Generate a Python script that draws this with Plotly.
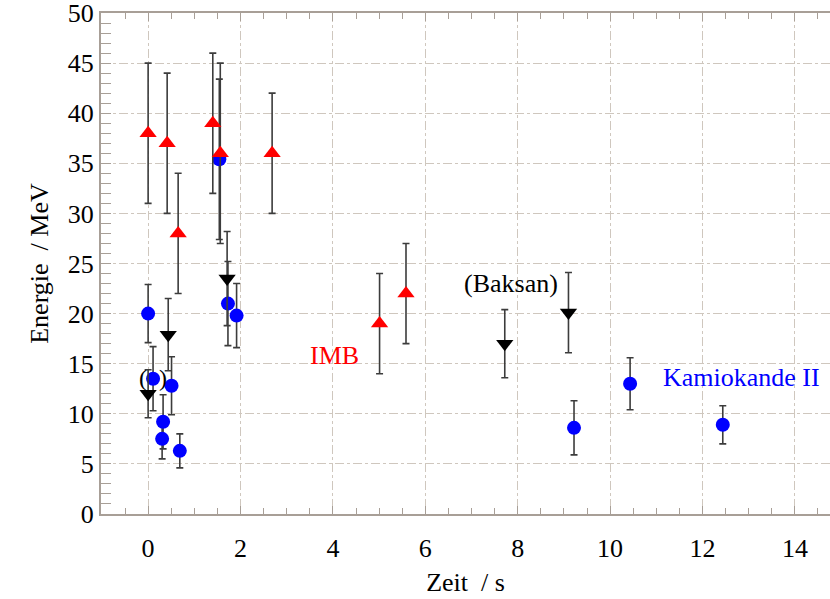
import plotly.graph_objects as go

# Kamiokande II (blue circles)
kam_t = [0.0, 0.107, 0.303, 0.324, 0.507, 0.686, 1.541, 1.728, 1.915, 9.219, 10.433, 12.439]
kam_e = [20.0, 13.5, 7.5, 9.2, 12.8, 6.3, 35.4, 21.0, 19.8, 8.6, 13.0, 8.9]
kam_err = [2.9, 3.2, 2.0, 2.7, 2.9, 1.7, 8.0, 4.2, 3.2, 2.7, 2.6, 1.9]

# IMB (red triangles up)
imb_t = [0.0, 0.412, 0.650, 1.40, 1.562, 2.684, 5.010, 5.582]
imb_e = [38.0, 37.0, 28.0, 39.0, 36.0, 36.0, 19.0, 22.0]
imb_err = [7.0, 7.0, 6.0, 7.0, 9.0, 6.0, 5.0, 5.0]

# Baksan (black triangles down)
bak_t = [0.0, 0.435, 1.710, 7.72, 9.099]
bak_e = [12.0, 17.9, 23.5, 17.0, 20.1]
bak_err = [2.4, 3.6, 4.7, 3.4, 4.0]

x_ticks = [0, 2, 4, 6, 8, 10, 12, 14]
y_ticks = [0, 5, 10, 15, 20, 25, 30, 35, 40, 45, 50]

FONT = "Liberation Serif"
FS = 26
ERRC = "#3c3c3c"

fig = go.Figure()


def add_series(t, e, err, color, symbol, size):
    fig.add_trace(go.Scatter(
        x=t, y=e, mode="markers",
        marker=dict(color=color, symbol=symbol, size=size, line=dict(width=0)),
        error_y=dict(type="data", array=err, visible=True, color=ERRC,
                     thickness=1.6, width=3.5),
        showlegend=False, cliponaxis=False,
    ))


add_series(kam_t, kam_e, kam_err, "#0000ff", "circle", 14)
add_series(imb_t, imb_e, imb_err, "#ff0000", "triangle-up", 15)
add_series(bak_t, bak_e, bak_err, "#000000", "triangle-down", 15)

annots = [
    dict(x=4.03, y=15.8, text="IMB", color="#ff0000", size=FS),
    dict(x=7.86, y=23.05, text="(Baksan)", color="#000000", size=FS),
    dict(x=12.85, y=13.6, text="Kamiokande II", color="#0000ff", size=FS),
    dict(x=0.1, y=13.6, text="(\u00a0\u00a0)", color="#000000", size=24),
]
for a in annots:
    fig.add_annotation(x=a["x"], y=a["y"], text=a["text"], showarrow=False,
                       font=dict(family=FONT, size=a["size"], color=a["color"]),
                       xanchor="center", yanchor="middle")

axcol = "#a89f97"
gridcol = "#cfc7be"

fig.update_layout(
    width=830, height=599,
    margin=dict(l=101, r=0, t=13, b=85),
    paper_bgcolor="white", plot_bgcolor="white",
    font=dict(family=FONT, size=FS, color="black"),
    xaxis=dict(
        range=[-1.02, 14.76], tickvals=x_ticks, ticktext=[str(v) for v in x_ticks],
        ticks="inside", ticklen=8, tickcolor=axcol, tickwidth=1,
        minor=dict(dtick=0.5, tick0=0, ticks="inside", ticklen=6, tickcolor=axcol, showgrid=False),
        showline=True, linecolor=axcol, linewidth=2, mirror="allticks",
        showgrid=True, gridcolor=gridcol, griddash="dashdot", gridwidth=1.2,
        zeroline=False, ticklabelstandoff=10, ticklabeloverflow="allow",
        title=dict(text="Zeit\u00a0\u00a0/ s", font=dict(size=FS), standoff=11),
        tickfont=dict(size=FS),
    ),
    yaxis=dict(
        range=[0, 50], tickvals=y_ticks, ticktext=[str(v) for v in y_ticks],
        ticks="inside", ticklen=10, tickcolor=axcol, tickwidth=1,
        minor=dict(dtick=1, tick0=0, ticks="inside", ticklen=10, tickcolor=axcol, showgrid=False),
        showline=True, linecolor=axcol, linewidth=2, mirror=False,
        showgrid=True, gridcolor=gridcol, griddash="dashdot", gridwidth=1.2,
        zeroline=False, ticklabelstandoff=0, ticklabeloverflow="allow",
        title=dict(text="Energie\u00a0\u00a0/ MeV", font=dict(size=FS), standoff=12),
        tickfont=dict(size=FS),
    ),
)

fig.write_html("out.html")
